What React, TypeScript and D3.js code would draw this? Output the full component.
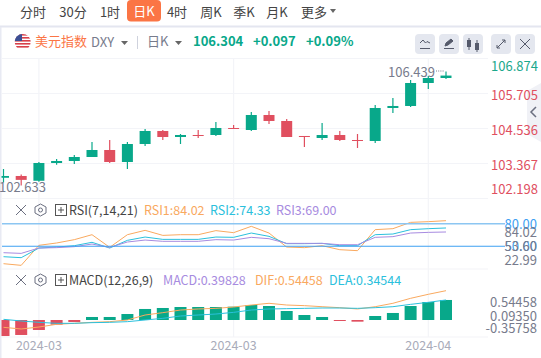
import React from "react";
import * as d3 from "d3";

const FONT = "'Noto Sans CJK SC','Noto Sans',sans-serif";

const opens = [102.89,102.95,102.79,103.384,103.451,103.584,103.818,103.417,104.018,104.453,104.252,104.319,104.319,104.553,104.486,104.987,104.787,104.286,104.219,104.319,104.152,104.119,105.221,105.288,106.056,106.223];
const closes = [102.95,102.82,103.384,103.451,103.584,103.818,103.417,104.018,104.453,104.252,104.319,104.286,104.553,104.52,104.987,104.787,104.252,104.252,104.319,104.152,104.119,105.221,105.288,106.056,106.223,106.304];
const highs = [103.183,103.0,103.417,103.518,103.651,104.085,104.152,104.085,104.52,104.486,104.353,104.486,104.753,104.653,105.087,105.121,104.853,104.286,104.72,104.453,104.353,105.321,105.555,106.156,106.29,106.439];
const lows = [102.73,102.633,102.76,103.327,103.35,103.584,103.384,103.183,103.952,104.152,104.018,104.219,104.286,104.52,104.452,104.686,104.252,103.918,104.152,104.119,103.885,104.052,105.054,105.254,105.856,106.19];

const rsi1 = [26.9,24.7,51.3,54.4,58.8,65.4,48.6,65.4,71.2,64.5,65.4,65.4,70.8,68.1,76.5,67.6,49.0,48.2,50.8,45.5,44.2,72.1,73.4,81.8,82.7,84.02];
const rsi2 = [36.2,34.9,47.7,49,50.8,55.3,47.7,57.9,62.3,59.2,59.2,59.2,62.3,61.9,67.6,63.2,53.5,53.5,53.9,50.8,50.8,65.4,66.3,72.1,73.4,74.33];
const rsi3 = [41.5,40.6,47.7,48.2,49.5,53,48.6,55.7,58.3,56.6,56.6,56.6,58.8,58.3,61.9,60.1,53.9,53.9,53.9,52.1,52.1,61.9,62.8,67.6,68.5,69];

const macdBars = [-0.308,-0.288,-0.192,-0.09,-0.038,0.058,0.058,0.115,0.212,0.231,0.25,0.25,0.25,0.256,0.288,0.269,0.173,0.096,0.058,-0.013,-0.032,0.077,0.135,0.269,0.346,0.385];
const dif = [-0.141,-0.173,-0.135,-0.083,-0.064,-0.045,-0.032,0,0.096,0.141,0.192,0.212,0.224,0.25,0.288,0.321,0.288,0.276,0.256,0.237,0.212,0.256,0.321,0.417,0.494,0.564];
const dea = [0.013,-0.019,-0.045,-0.064,-0.064,-0.051,-0.045,-0.032,0,0.032,0.077,0.096,0.115,0.147,0.192,0.212,0.218,0.224,0.231,0.231,0.224,0.237,0.256,0.301,0.34,0.385];

const priceTicks = [105.705,104.536,103.367];
const periods = [["分时",33],["30分",73],["1时",110],["4时",177],["周K",211],["季K",244],["月K",277],["更多",314]] as [string,number][];
const dateLabels = [["2024-03",2],["2024-03",13],["2024-04",24]] as [string,number][];

const GREEN = "#08a88a", RED = "#e04f5f", ORANGE = "#f9a95f", CYAN = "#2bc0dc", PURPLE = "#a78be0", GRID = "#f3f4f8", GRAY = "#777b8c";

const x = d3.scaleLinear().domain([0,25]).range([3.5,446]);
const yP = d3.scaleLinear().domain([102.198,105.705]).range([198.5,93.5]);
const yR = d3.scaleLinear().domain([50,80]).range([246.3,223.7]);
const yM = d3.scaleLinear().domain([0,1]).range([320,268]);

const line = (ys: number[], y: (v:number)=>number) =>
  d3.line<number>().x((_,i)=>x(i)).y(d=>y(d))(ys) as string;

function PaneHeader({ y, label, items }: { y:number; label:string; items:[string,number,string][] }) {
  return (
    <g>
      <path d={`M16 ${y-5}L26 ${y+5}M26 ${y-5}L16 ${y+5}`} stroke="#6b6f80" fill="none" strokeWidth={1}/>
      <path d={`M40.5 ${y-6}L46 ${y-3}V${y+3}L40.5 ${y+6}L35 ${y+3}V${y-3}Z`} stroke="#6b6f80" fill="none"/>
      <circle cx={40.5} cy={y} r={2} stroke="#6b6f80" fill="none"/>
      <rect x={55.5} y={y-5.5} width={11} height={11} stroke="#555" fill="none"/>
      <path d={`M58 ${y}H64M61 ${y-3}V${y+3}`} stroke="#555"/>
      <text x={69} y={y+4.5} fontSize={12.5} fill="#444">{label}</text>
      {items.map(([t,px,c])=><text key={t} x={px} y={y+4.5} fontSize={12.5} fill={c}>{t}</text>)}
    </g>
  );
}

export default function App() {
  return (
    <svg width={541} height={358} style={{position:"fixed",left:0,top:0,background:"#fff"}} fontFamily={FONT}>
      <rect width={541} height={358} fill="#fff"/>
      {/* toolbar */}
      <rect x={127} y={0} width={34} height={21.5} rx={4} fill="#fb7545"/>
      <text x={144} y={16} textAnchor="middle" fontSize={13} fill="#fff">日K</text>
      {periods.map(([t,px])=><text key={t} x={px} y={17} textAnchor="middle" fontSize={13} fill="#444">{t}</text>)}
      <path d="M330 9h6l-3 4z" fill="#666"/>
      <rect x={0} y={25.5} width={541} height={2} fill="#e4e6f0"/>
      <rect x={0} y={27} width={1.5} height={331} fill="#e8eaf3"/>

      {/* header */}
      <clipPath id="flag"><circle cx={22.7} cy={42} r={8}/></clipPath>
      <g clipPath="url(#flag)">
        <rect x={14} y={34} width={18} height={16} fill="#fff"/>
        {[34,37,40,43,46].map(v=><rect key={v} x={14} y={v} width={18} height={1.6} fill="#d8404a"/>)}
        <rect x={14} y={34} width={8} height={7} fill="#3b4f94"/>
      </g>
      <text x={35} y={46} fontSize={13} fill="#fb7545">美元指数</text>
      <text x={91} y={47} fontSize={13} fill={GRAY}>DXY</text>
      <path d="M121 41h7l-3.5 4z" fill="#666"/>
      <rect x={137} y={36} width={1} height={13} fill="#cfd2dd"/>
      <text x={147} y={46} fontSize={13} fill={GRAY}>日K</text>
      <path d="M175 41h7l-3.5 4z" fill="#666"/>
      <text x={193} y={46} fontSize={13} fontWeight={700} fill={GREEN}>106.304</text>
      <text x={253} y={46} fontSize={13} fontWeight={700} fill={GREEN}>+0.097</text>
      <text x={306} y={46} fontSize={13} fontWeight={700} fill={GREEN}>+0.09%</text>
      {[415,439,463,491,515].map(v=><rect key={v} x={v} y={34} width={20} height={20} rx={4} fill="#e4e7ef"/>)}
      <path d="M420 48.5h10M420 43l3-3 2.5 3 1.5-1.5 3 1.5" stroke="#555a6b" fill="none"/>
      <path d="M444 48.5h10M445 46l1-3 5-4 2 2-5 4z" stroke="#555a6b" fill="#555a6b"/>
      <path d="M469 38v12M477 40v12" stroke="#555a6b"/>
      <rect x={467} y={40} width={4} height={7} fill="#555a6b"/><rect x={475} y={43} width={4} height={7} fill="#555a6b"/>
      <path d="M497 48l8-8M502 40h3v3M497 45v3h3" stroke="#555a6b" fill="none"/>
      <path d="M520 39l10 10M530 39l-10 10" stroke="#555a6b" fill="none"/>

      {/* grid */}
      {[58.5,93.5,128.5,163.5,198.5].map(v=><line key={v} x1={2} x2={488} y1={v} y2={v} stroke={GRID} strokeWidth={1.2}/>)}
      <line x1={2} x2={488} y1={269} y2={269} stroke={GRID} strokeWidth={1.2}/>
      <line x1={2} x2={488} y1={337} y2={337} stroke={GRID} strokeWidth={1.2}/>
      {[2,13,24].map(i=><line key={i} x1={x(i)} x2={x(i)} y1={58} y2={337} stroke={GRID} strokeWidth={1.2}/>)}

      {/* candles */}
      <clipPath id="plot"><rect x={1.5} y={50} width={490} height={300}/></clipPath>
      <g clipPath="url(#plot)">
        {opens.map((o,i)=>{
          const c = closes[i], col = c>=o?GREEN:RED;
          const top = yP(Math.max(o,c)), bot = yP(Math.min(o,c));
          return <g key={i}>
            <line x1={x(i)} x2={x(i)} y1={yP(highs[i])} y2={yP(lows[i])} stroke={col} strokeWidth={1.2}/>
            <rect x={x(i)-5.5} y={top} width={11} height={Math.max(bot-top,1)} fill={col}/>
          </g>;
        })}
        {/* MACD bars */}
        {macdBars.map((v,i)=>(
          <rect key={i} x={x(i)-6} width={12} y={Math.min(yM(v),yM(0))} height={Math.max(Math.abs(yM(v)-yM(0)),1)} fill={v>=0?GREEN:RED}/>
        ))}
        <path d={line(dif,yM)} fill="none" stroke={ORANGE} strokeWidth={1}/>
        <path d={line(dea,yM)} fill="none" stroke={CYAN} strokeWidth={1}/>
        {/* RSI */}
        <path d={line(rsi1,yR)} fill="none" stroke={ORANGE} strokeWidth={1}/>
        <path d={line(rsi2,yR)} fill="none" stroke={CYAN} strokeWidth={1}/>
        <path d={line(rsi3,yR)} fill="none" stroke={PURPLE} strokeWidth={1}/>
      </g>
      <line x1={2} x2={505} y1={yR(80)} y2={yR(80)} stroke="#8cc6f2" strokeWidth={1.6}/>
      <line x1={2} x2={505} y1={yR(50)} y2={yR(50)} stroke="#3ea0f2" strokeWidth={1.1}/>

      {/* collapse tab */}
      <path d="M541 83L527 91V134L541 142Z" fill="#f0f1f6"/>
      <path d="M536 107l-5 5 5 5" stroke="#6b6f80" strokeWidth={1.5} fill="none"/>

      {/* annotations */}
      <text x={388} y={76.5} fontSize={13} fill={GRAY}>106.439</text>
      <path d="M436 71h8" stroke={GRAY} strokeDasharray="1 1.2"/>
      <text x={-1} y={192} fontSize={13} fill={GRAY}>102.633</text>

      {/* price labels */}
      <text x={538} y={71} textAnchor="end" fontSize={13} fill="#1aa88c">106.874</text>
      {priceTicks.map(v=><text key={v} x={538} y={yP(v)+6} textAnchor="end" fontSize={13} fill={RED}>{v.toFixed(3)}</text>)}
      <text x={538} y={194} textAnchor="end" fontSize={13} fill={RED}>102.198</text>

      <PaneHeader y={210} label="RSI(7,14,21)" items={[["RSI1:84.02",144,ORANGE],["RSI2:74.33",210,CYAN],["RSI3:69.00",276,PURPLE]]}/>
      <text x={537} y={229} textAnchor="end" fontSize={13} fill="#3ea0f2">80.00</text>
      <text x={537} y={237} textAnchor="end" fontSize={13} fill={GRAY}>84.02</text>
      <text x={537} y={251} textAnchor="end" fontSize={13} fill="#3ea0f2">50.00</text>
      <text x={537} y={251} textAnchor="end" fontSize={13} fill={GRAY}>53.60</text>
      <text x={537} y={265} textAnchor="end" fontSize={13} fill={GRAY}>22.99</text>

      <PaneHeader y={280} label="MACD(12,26,9)" items={[["MACD:0.39828",163,PURPLE],["DIF:0.54458",255,ORANGE],["DEA:0.34544",329,CYAN]]}/>
      <text x={537} y={306.5} textAnchor="end" fontSize={13} fill={GRAY}>0.54458</text>
      <text x={537} y={320.5} textAnchor="end" fontSize={13} fill={GRAY}>0.09350</text>
      <text x={537} y={333} textAnchor="end" fontSize={13} fill={GRAY}>-0.35758</text>

      {dateLabels.map(([t,i],k)=><text key={k} x={x(i)} y={350} textAnchor="middle" fontSize={12.5} fill="#a9acba">{t}</text>)}
    </svg>
  );
}
